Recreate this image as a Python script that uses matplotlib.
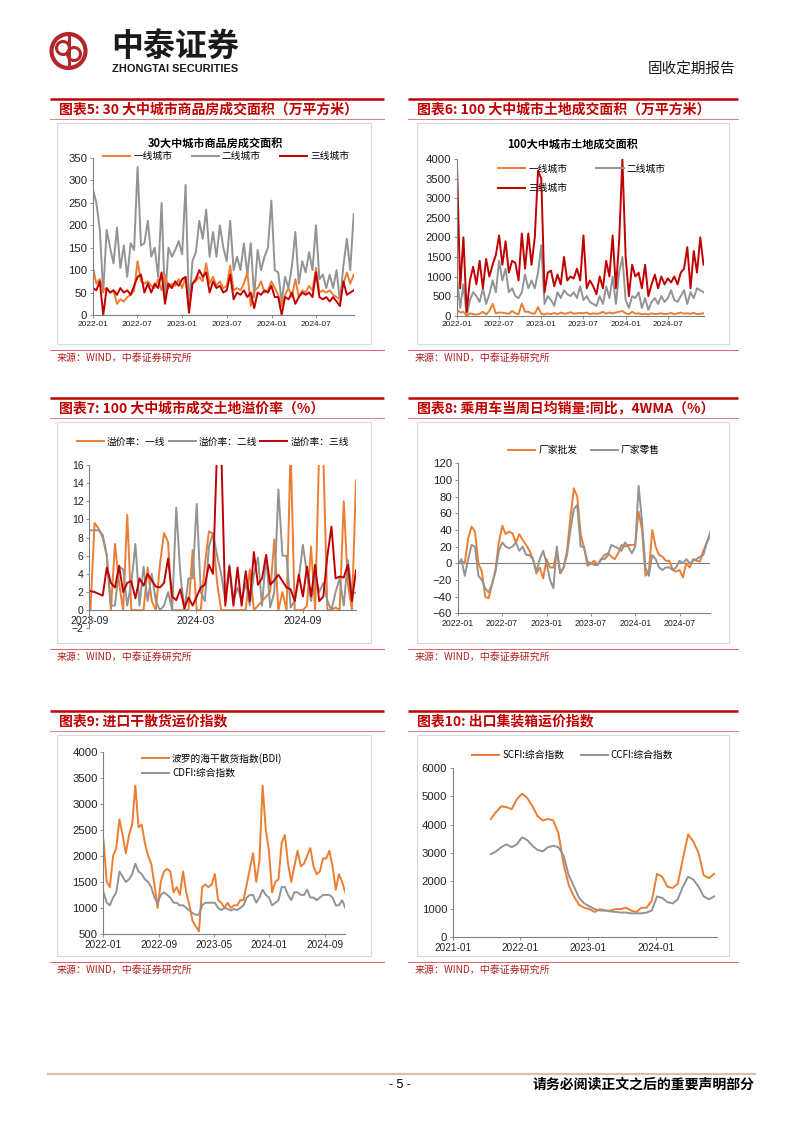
import numpy as np
import pandas as pd
import matplotlib
matplotlib.use('Agg')
from matplotlib import pyplot as plt
from matplotlib.patches import Rectangle, Circle

plt.rcParams['font.family'] = ['Liberation Sans', 'Noto Sans CJK SC']
CJK = ['Noto Sans CJK SC', 'DejaVu Sans']

ORANGE = '#ED7D31'
GREY = '#939393'
RED = '#C00000'

# ---- chart 5: 30大中城市商品房成交面积, biweekly from 2022-01-02
c5_start = '2022-01-02'
c5_tier1 = [105, 70, 80, 55, 60, 50, 55, 25, 35, 30,
            40, 45, 55, 120, 75, 70, 75, 65, 60, 80,
            55, 90, 60, 70, 65, 80, 60, 85, 15, 70,
            75, 85, 75, 115, 70, 85, 65, 75, 60, 65,
            110, 55, 60, 55, 70, 95, 20, 55, 60, 75,
            50, 55, 75, 60, 45, 20, 45, 60, 40, 80,
            40, 55, 50, 65, 55, 105, 50, 55, 50, 55,
            45, 40, 35, 70, 95, 70, 90]
c5_tier2 = [280, 250, 190, 50, 190, 150, 115, 195, 105, 155,
            85, 160, 145, 330, 155, 160, 210, 130, 150, 85,
            250, 30, 150, 130, 145, 165, 135, 290, 15, 120,
            140, 210, 170, 235, 130, 185, 130, 200, 150, 120,
            210, 100, 130, 100, 160, 90, 160, 40, 145, 100,
            130, 150, 255, 100, 95, 30, 85, 60, 110, 185,
            70, 120, 95, 140, 100, 200, 80, 90, 60, 90,
            60, 100, 30, 110, 170, 100, 225]
c5_tier3 = [60, 55, 75, 0, 60, 50, 55, 45, 60, 50,
            55, 45, 65, 85, 90, 50, 70, 50, 70, 60,
            95, 25, 70, 60, 75, 65, 80, 85, 5, 70,
            80, 100, 85, 95, 50, 75, 60, 65, 50, 55,
            90, 35, 50, 45, 55, 40, 50, 15, 50, 45,
            55, 50, 65, 40, 40, 0, 40, 35, 50, 25,
            40, 50, 45, 50, 40, 95, 40, 35, 40, 30,
            40, 30, 20, 75, 45, 50, 55]

# ---- chart 6: 100大中城市土地成交面积, biweekly from 2022-01-02
c6_start = '2022-01-02'
c6_tier1 = [150, 80, 100, 0, 60, 40, 30, 50, 100, 30,
            120, 300, 60, 80, 80, 60, 50, 120, 60, 40,
            310, 100, 100, 60, 50, 220, 50, 30, 60, 40,
            70, 40, 80, 50, 60, 90, 50, 60, 70, 60,
            80, 40, 60, 50, 60, 100, 50, 80, 60, 80,
            100, 120, 60, 40, 100, 50, 60, 40, 50, 30,
            60, 40, 50, 60, 40, 50, 70, 40, 60, 80,
            50, 60, 50, 70, 40, 50, 60]
c6_tier2 = [1000, 200, 800, 0, 400, 600, 500, 350, 700, 300,
            550, 900, 600, 1400, 900, 1200, 600, 700, 500, 450,
            600, 1050, 700, 900, 700, 1100, 1800, 300, 500, 400,
            250, 600, 450, 650, 550, 500, 600, 450, 750, 400,
            500, 350, 300, 250, 500, 300, 750, 450, 1000, 300,
            1100, 1500, 400, 200, 500, 450, 600, 200, 450, 150,
            350, 450, 300, 500, 350, 450, 650, 400, 350, 500,
            650, 300, 600, 450, 700, 650, 600]
c6_tier3 = [3900, 700, 2000, 100, 900, 1250, 800, 1400, 700, 1450,
            1000, 1300, 1550, 2050, 1300, 1900, 1100, 1400, 1350, 900,
            2100, 1200, 2100, 1300, 2000, 3700, 3500, 600, 1100, 1150,
            750, 1050, 800, 1500, 900, 1000, 950, 1200, 900, 2050,
            700, 900, 750, 550, 1000, 700, 1400, 1000, 2050, 700,
            1900, 4000, 1500, 500, 1300, 1000, 1100, 700, 1300, 500,
            800, 1050, 700, 1000, 800, 950, 850, 1000, 800, 1100,
            1200, 1750, 700, 1650, 1100, 2000, 1300]

# ---- chart 7: 成交土地溢价率, weekly from 2023-09-03
c7_start = '2023-09-03'
c7_tier1 = [0, 9.6, 9, 8, 6, 0, 7.3, 3, 0, 10.5,
            0, 0, 0, 0, 4.7, 1, 0, 5, 8.5, 7.5,
            0, 0, 0, 0, 0, 6.6, 0, 0, 5, 8.7,
            8.4, 3, 0, 0, 0, 0, 0, 0, 0, 4.5,
            0, 0.5, 1, 1.5, 2, 7.8, 0, 2, 0, 18,
            0, 0, 0, 0.5, 7, 0, 18, 17, 0, 0,
            0.3, 0, 12, 3, 0, 14.3]
c7_tier2 = [8.8, 8.8, 8.8, 8.3, 6, 0.5, 0.5, 4.8, 4.5, 0.5,
            3, 7.3, 0.5, 4.8, 1, 4, 1, 0, 0.5, 2,
            0, 11.3, 4, 0, 3.5, 3.5, 11.7, 2, 1, 7,
            8.5, 6, 4, 1, 5, 1, 2.5, 1, 3, 0.5,
            4, 5.8, 0.5, 6, 0.3, 2, 13.3, 6, 6, 0.3,
            1, 3.5, 7.2, 4, 1, 4, 2, 3, 1, 0,
            2, 3.5, 0.5, 5.5, 2, 1.9]
c7_tier3 = [2.1, 2, 1.8, 1.6, 4.7, 3, 2.5, 4.9, 2, 3,
            3.2, 1.3, 3.5, 2.7, 4, 3.3, 2.6, 2.5, 3, 5.7,
            1.5, 1.1, 2.3, 0.2, 1.4, 0.5, 1.5, 2.5, 2.8, 5,
            4, 18, 18, 0.5, 4.8, 0.5, 4.7, 0.5, 4.3, 1,
            6.4, 2.8, 3.5, 6.1, 2.8, 3.3, 3.9, 3.2, 2.5, 2.3,
            1, 3.9, 1.5, 4.8, 1.5, 5, 1, 1.5, 6, 9.2,
            3.5, 3.7, 3.6, 5, 1, 4.4]

# ---- chart 8: 乘用车当周日均销量同比 4WMA, biweekly from 2022-01-02
c8_start = '2022-01-02'
c8_wholesale = [0, 3, 0, 30, 44, 38, 0, -10, -40, -42,
                -25, -8, 25, 45, 35, 38, 36, 25, 35, 28,
                22, 15, 5, -12, -5, -18, 5, -5, -5, 15,
                -12, -5, 15, 55, 90, 80, 35, 18, 2, 0,
                3, -2, 5, 10, 12, 8, 5, 12, 22, 20,
                22, 22, 22, 62, 40, -15, -10, 40, 20, 10,
                8, 3, 3, -8, -10, -8, -17, 0, -5, 5,
                3, 2, 15, 25, 33]
c8_retail = [-2, 5, -15, 5, 22, 20, -15, -20, -30, -35,
             -25, -10, 15, 25, 20, 18, 20, 25, 15, 20,
             10, 10, 5, -10, 5, 15, 0, -20, -30, 20,
             -12, -5, 10, 40, 65, 70, 20, 20, -3, 0,
             -2, -2, 5, 5, 10, 22, 20, 18, 15, 25,
             20, 12, 20, 93, 50, -5, -15, 10, 5, -5,
             -8, -5, -5, -8, -5, 3, 0, 5, 0, 3,
             5, 8, 10, 25, 37]

# ---- chart 9: 进口干散货运价指数, biweekly from 2022-01-02
c9_start = '2022-01-02'
c9_bdi = [2300, 1500, 1400, 2000, 2150, 2700, 2400, 2050, 2400, 2600,
          3350, 2550, 2600, 2250, 2000, 1850, 1450, 1000, 1500, 1700,
          1750, 1700, 1300, 1400, 1250, 1700, 1300, 1050, 750, 650,
          550, 1400, 1450, 1400, 1450, 1650, 1150, 1100, 1000, 1100,
          1000, 1050, 1050, 1150, 1150, 1450, 1750, 2050, 1500, 1900,
          3350, 2500, 2100, 1300, 1500, 1550, 2250, 2400, 1850, 1500,
          1800, 2100, 1800, 1850, 2000, 2150, 1800, 1650, 1700, 1950,
          1950, 2100, 1800, 1350, 1650, 1500, 1300]
c9_cdfi = [1300, 1100, 1050, 1200, 1300, 1700, 1600, 1500, 1550, 1650,
           1850, 1700, 1650, 1550, 1500, 1400, 1200, 1100, 1250, 1300,
           1250, 1200, 1100, 1100, 1050, 1050, 1000, 950, 900, 870,
           870, 1050, 1100, 1100, 1100, 1100, 1000, 960, 1000, 980,
           950, 980, 960, 1000, 1050, 1200, 1250, 1250, 1100, 1200,
           1350, 1250, 1200, 1050, 1100, 1150, 1400, 1400, 1250, 1150,
           1300, 1300, 1250, 1250, 1350, 1200, 1200, 1150, 1200, 1250,
           1250, 1250, 1200, 1050, 1050, 1150, 1000]

# ---- chart 10: 出口集装箱运价指数, 4-weekly from 2021-07-26
c10_start = '2021-07-26'
c10_scfi = [4200, 4450, 4650, 4620, 4550, 4900, 5100, 4950, 4650, 4300,
            4150, 4200, 4150, 3700, 2600, 1850, 1450, 1150, 1050, 1000,
            900, 1000, 950, 950, 1000, 1000, 1050, 950, 900, 1050,
            1050, 1300, 2250, 2150, 1800, 1750, 1900, 2800, 3650, 3400,
            3000, 2200, 2100, 2250]
c10_ccfi = [2950, 3050, 3200, 3300, 3200, 3300, 3550, 3450, 3250, 3100,
            3050, 3200, 3250, 3200, 2900, 2200, 1800, 1400, 1200, 1100,
            1000, 950, 950, 920, 900, 880, 880, 850, 850, 850,
            880, 950, 1450, 1400, 1250, 1200, 1350, 1800, 2150, 2050,
            1800, 1450, 1350, 1450]

ticks_6m = ['2022-01', '2022-07', '2023-01', '2023-07', '2024-01', '2024-07']
ticks_c7 = ['2023-09', '2024-03', '2024-09']
ticks_c9 = ['2022-01', '2022-09', '2023-05', '2024-01', '2024-09']
ticks_c10 = ['2021-01', '2022-01', '2023-01', '2024-01']

W, H = 802, 1133
fig = plt.figure(figsize=(W / 100, H / 100), dpi=100)
bg = fig.add_axes([0, 0, 1, 1])
bg.set_xlim(0, W)
bg.set_ylim(H, 0)
bg.axis('off')


def dates(start, values, step):
  return pd.date_range(start, periods=len(values), freq=step).to_numpy()


def axes_px(l, t, r, b):
  ax = fig.add_axes([l / W, 1 - b / H, (r - l) / W, (b - t) / H])
  ax.patch.set_alpha(0)
  return ax


def style(ax, ylim, yticks, xticks, xlim, ysize=8.2, xsize=6.0):
  for s in ['top', 'right']:
    ax.spines[s].set_visible(False)
  for s in ['left', 'bottom']:
    ax.spines[s].set_color('#808080')
    ax.spines[s].set_linewidth(0.8)
  ax.set_ylim(*ylim)
  ax.set_yticks(yticks)
  ax.set_xticks(pd.to_datetime(xticks).to_numpy())
  ax.set_xticklabels(xticks)
  ax.set_xlim(np.datetime64(xlim[0]), np.datetime64(xlim[1]))
  ax.tick_params(length=2, width=0.6, color='#808080', pad=2,
                 labelcolor='#222222')
  ax.tick_params(axis='y', labelsize=ysize)
  ax.tick_params(axis='x', labelsize=xsize)


def legend(ax, handles, labels, x, y, ncol, colspace, rowspace=0.5):
  ax.legend(handles, labels, loc='center left', bbox_to_anchor=(x / W, 1 - y / H),
            bbox_transform=fig.transFigure, ncol=ncol, frameon=False,
            prop={'family': CJK, 'size': 7}, handlelength=2.8,
            handletextpad=0.3, columnspacing=colspace, labelspacing=rowspace,
            borderpad=0, borderaxespad=0)


def panel(x0, x1, bx0, bx1, dy, title):
  bg.plot([x0, x1], [99 + dy] * 2, color=RED, lw=1.8, solid_capstyle='butt')
  bg.text(x0 + 9, 109.5 + dy, title, color=RED, fontsize=10, weight='bold',
          family=CJK, va='center', ha='left')
  bg.plot([x0, x1], [118.7 + dy] * 2, color='#E08080', lw=0.7)
  bg.add_patch(Rectangle((bx0, 123 + dy), bx1 - bx0, 221, fill=False,
                         ec='#D9D9D9', lw=0.8))
  bg.plot([x0, x1], [350 + dy] * 2, color='#E06060', lw=0.7)
  bg.text(x0 + 7, 357.5 + dy, '来源：WIND，中泰证券研究所', color='#B02020',
          fontsize=7.2, family=CJK, va='center', ha='left')


# ---- page header / footer
bg.add_patch(Circle((68.5, 51), 17, fill=False, ec='#B3262C', lw=3))
bg.add_patch(Circle((63, 48), 6.5, fill=False, ec='#B3262C', lw=2.2))
bg.add_patch(Circle((74, 54), 6.5, fill=False, ec='#B3262C', lw=2.2))
bg.plot([68.5, 68.5], [36, 66], color='#B3262C', lw=2.2)
bg.text(111, 47, '中泰证券', fontsize=23, weight='bold', family=CJK,
        va='center', ha='left', color='#1a1a1a')
bg.text(112, 69, 'ZHONGTAI SECURITIES', fontsize=7.9, weight='bold',
        va='center', ha='left', color='#1a1a1a')
bg.text(735, 70, '固收定期报告', fontsize=10.5, family=CJK, va='center',
        ha='right', color='#1a1a1a')

bg.plot([48, 755], [1074, 1074], color='#D9BFAE', lw=1.6)
bg.text(400, 1085, '- 5 -', fontsize=9, va='center', ha='center')
bg.text(755, 1085, '请务必阅读正文之后的重要声明部分', fontsize=10, weight='bold',
        family=CJK, va='center', ha='right')

panel(50, 384, 57, 371, 0, '图表5: 30 大中城市商品房成交面积（万平方米）')
panel(408, 738, 417, 729, 0, '图表6: 100 大中城市土地成交面积（万平方米）')
panel(50, 384, 57, 371, 299, '图表7: 100 大中城市成交土地溢价率（%）')
panel(408, 738, 417, 729, 299, '图表8: 乘用车当周日均销量:同比，4WMA（%）')
panel(50, 384, 57, 371, 612, '图表9: 进口干散货运价指数')
panel(408, 738, 417, 729, 612, '图表10: 出口集装箱运价指数')

# ---- chart 5
ax = axes_px(92.7, 158, 353.7, 315)
d = dates(c5_start, c5_tier1, '14D')
l2, = ax.plot(d, c5_tier2, color=GREY, lw=1.4)
l1, = ax.plot(d, c5_tier1, color=ORANGE, lw=1.4)
l3, = ax.plot(d, c5_tier3, color=RED, lw=1.4)
style(ax, (0, 350), range(0, 351, 50), ticks_6m, ('2022-01-01', d[-1]))
legend(ax, [l1, l2, l3], ['一线城市', '二线城市', '三线城市'], 103, 156, 3, 2.0)
bg.text(215, 143, '30大中城市商品房成交面积', fontsize=8, weight='bold',
        family=CJK, ha='center', va='center')

# ---- chart 6
ax = axes_px(456.7, 159, 703.5, 315.7)
d = dates(c6_start, c6_tier1, '14D')
l2, = ax.plot(d, c6_tier2, color=GREY, lw=1.4)
l3, = ax.plot(d, c6_tier3, color=RED, lw=1.4)
l1, = ax.plot(d, c6_tier1, color=ORANGE, lw=1.4)
style(ax, (0, 4000), range(0, 4001, 500), ticks_6m, ('2022-01-01', d[-1]))
legend(ax, [l1, l3, l2], ['一线城市', '三线城市', '二线城市'], 498, 178.5, 2, 3.0, 0.95)
bg.text(573, 144, '100大中城市土地成交面积', fontsize=8, weight='bold',
        family=CJK, ha='center', va='center')

# ---- chart 7
ax = axes_px(89.3, 465, 356, 628.3)
d = dates(c7_start, c7_tier1, '7D')
l1, = ax.plot(d, c7_tier1, color=ORANGE, lw=1.4)
l2, = ax.plot(d, c7_tier2, color=GREY, lw=1.4)
l3, = ax.plot(d, c7_tier3, color=RED, lw=1.4)
style(ax, (-2, 16), range(-2, 17, 2), ticks_c7, ('2023-09-01', d[-1]), 7.5, 7.5)
ax.spines['bottom'].set_position(('data', 0))
legend(ax, [l1, l2, l3], ['溢价率：一线', '溢价率：二线', '溢价率：三线'], 77, 441.7, 3, 0.3)

# ---- chart 8
ax = axes_px(457.7, 463.3, 710.2, 613.3)
d = dates(c8_start, c8_wholesale, '14D')
ax.axhline(0, color='#808080', lw=0.8)
l1, = ax.plot(d, c8_wholesale, color=ORANGE, lw=1.4)
l2, = ax.plot(d, c8_retail, color=GREY, lw=1.4)
style(ax, (-60, 120), range(-60, 121, 20), ticks_6m, ('2022-01-01', d[-1]), 8.2, 6.3)
legend(ax, [l1, l2], ['厂家批发', '厂家零售'], 508, 450, 2, 1.4)

# ---- chart 9
ax = axes_px(103.3, 751.7, 345.3, 934)
d = dates(c9_start, c9_bdi, '14D')
l1, = ax.plot(d, c9_bdi, color=ORANGE, lw=1.4)
l2, = ax.plot(d, c9_cdfi, color=GREY, lw=1.4)
style(ax, (500, 4000), range(500, 4001, 500), ticks_c9, ('2022-01-01', d[-1]), 8.2, 7.2)
legend(ax, [l1, l2], ['波罗的海干散货指数(BDI)', 'CDFI:综合指数'], 142, 765.5, 1, 1.0, 0.5)

# ---- chart 10
ax = axes_px(452.7, 768.3, 716.7, 937.3)
d = dates(c10_start, c10_scfi, '28D')
l1, = ax.plot(d, c10_scfi, color=ORANGE, lw=1.4)
l2, = ax.plot(d, c10_ccfi, color=GREY, lw=1.4)
style(ax, (0, 6000), range(0, 6001, 1000), ticks_c10, ('2021-01-01', '2024-11-25'), 8.2, 7.2)
legend(ax, [l1, l2], ['SCFI:综合指数', 'CCFI:综合指数'], 472, 755, 2, 1.7)

fig.savefig('out.png', dpi=100)
